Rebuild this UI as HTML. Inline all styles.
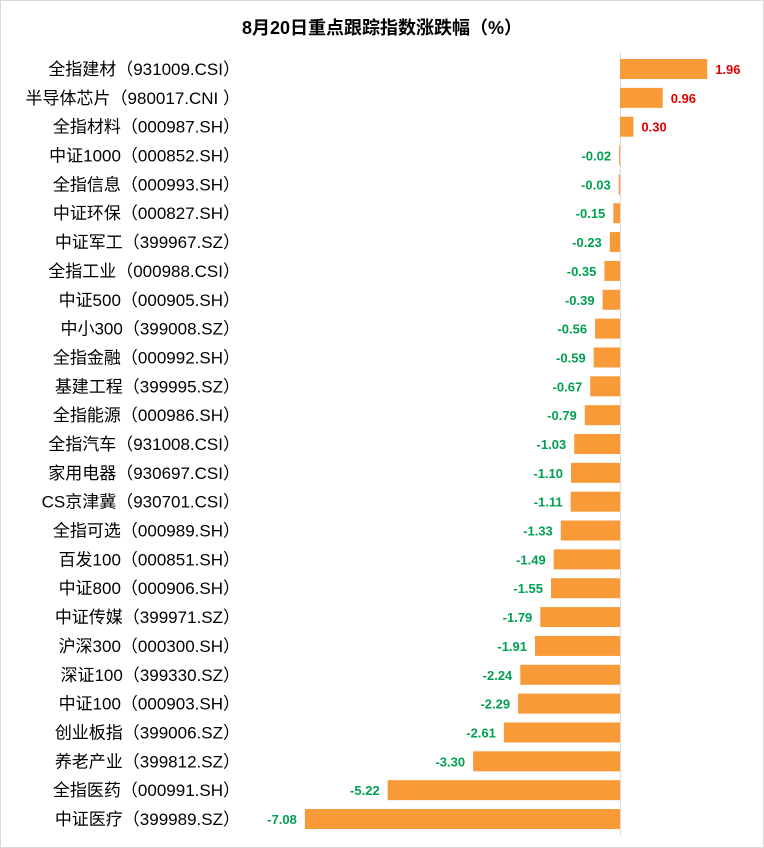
<!DOCTYPE html><html><head><meta charset="utf-8"><style>body{margin:0;background:#fff}svg{display:block}.l{font-size:17px;fill:#000;text-anchor:end}.p{font-size:13px;font-weight:bold;fill:#E00000}.n{font-size:13px;font-weight:bold;fill:#00A050;text-anchor:end}rect.b{fill:#F99A38}</style></head><body>
<svg width="764" height="848" xmlns="http://www.w3.org/2000/svg" font-family="Liberation Sans, Noto Sans CJK SC, sans-serif">
<rect x="0.5" y="0.5" width="763" height="847" fill="#fff" stroke="#d9d9d9"/>
<text x="382" y="34" text-anchor="middle" font-size="18" font-weight="bold" fill="#000">8月20日重点跟踪指数涨跌幅（%）</text>
<line x1="620.5" y1="52" x2="620.5" y2="835" stroke="#d9d9d9"/>
<g transform="translate(0,69)"><rect class="b" x="620" y="-10" width="87.2" height="20"/><text class="l" x="240" y="6">全指建材（931009.CSI）</text><text class="p" x="715.2" y="5">1.96</text></g>
<g transform="translate(0,97.85)"><rect class="b" x="620" y="-10" width="42.7" height="20"/><text class="l" x="240" y="6">半导体芯片（980017.CNI ）</text><text class="p" x="670.7" y="5">0.96</text></g>
<g transform="translate(0,126.69)"><rect class="b" x="620" y="-10" width="13.4" height="20"/><text class="l" x="240" y="6">全指材料（000987.SH）</text><text class="p" x="641.4" y="5">0.30</text></g>
<g transform="translate(0,155.54)"><rect class="b" x="619.1" y="-10" width="0.9" height="20"/><text class="l" x="240" y="6">中证1000（000852.SH）</text><text class="n" x="611.1" y="5">-0.02</text></g>
<g transform="translate(0,184.38)"><rect class="b" x="618.7" y="-10" width="1.3" height="20"/><text class="l" x="240" y="6">全指信息（000993.SH）</text><text class="n" x="610.7" y="5">-0.03</text></g>
<g transform="translate(0,213.23)"><rect class="b" x="613.3" y="-10" width="6.7" height="20"/><text class="l" x="240" y="6">中证环保（000827.SH）</text><text class="n" x="605.3" y="5">-0.15</text></g>
<g transform="translate(0,242.08)"><rect class="b" x="609.8" y="-10" width="10.2" height="20"/><text class="l" x="240" y="6">中证军工（399967.SZ）</text><text class="n" x="601.8" y="5">-0.23</text></g>
<g transform="translate(0,270.92)"><rect class="b" x="604.4" y="-10" width="15.6" height="20"/><text class="l" x="240" y="6">全指工业（000988.CSI）</text><text class="n" x="596.4" y="5">-0.35</text></g>
<g transform="translate(0,299.77)"><rect class="b" x="602.6" y="-10" width="17.4" height="20"/><text class="l" x="240" y="6">中证500（000905.SH）</text><text class="n" x="594.6" y="5">-0.39</text></g>
<g transform="translate(0,328.62)"><rect class="b" x="595.1" y="-10" width="24.9" height="20"/><text class="l" x="240" y="6">中小300（399008.SZ）</text><text class="n" x="587.1" y="5">-0.56</text></g>
<g transform="translate(0,357.46)"><rect class="b" x="593.7" y="-10" width="26.3" height="20"/><text class="l" x="240" y="6">全指金融（000992.SH）</text><text class="n" x="585.7" y="5">-0.59</text></g>
<g transform="translate(0,386.31)"><rect class="b" x="590.2" y="-10" width="29.8" height="20"/><text class="l" x="240" y="6">基建工程（399995.SZ）</text><text class="n" x="582.2" y="5">-0.67</text></g>
<g transform="translate(0,415.15)"><rect class="b" x="584.8" y="-10" width="35.2" height="20"/><text class="l" x="240" y="6">全指能源（000986.SH）</text><text class="n" x="576.8" y="5">-0.79</text></g>
<g transform="translate(0,444)"><rect class="b" x="574.2" y="-10" width="45.8" height="20"/><text class="l" x="240" y="6">全指汽车（931008.CSI）</text><text class="n" x="566.2" y="5">-1.03</text></g>
<g transform="translate(0,472.85)"><rect class="b" x="571" y="-10" width="49" height="20"/><text class="l" x="240" y="6">家用电器（930697.CSI）</text><text class="n" x="563" y="5">-1.10</text></g>
<g transform="translate(0,501.69)"><rect class="b" x="570.6" y="-10" width="49.4" height="20"/><text class="l" x="240" y="6">CS京津冀（930701.CSI）</text><text class="n" x="562.6" y="5">-1.11</text></g>
<g transform="translate(0,530.54)"><rect class="b" x="560.8" y="-10" width="59.2" height="20"/><text class="l" x="240" y="6">全指可选（000989.SH）</text><text class="n" x="552.8" y="5">-1.33</text></g>
<g transform="translate(0,559.38)"><rect class="b" x="553.7" y="-10" width="66.3" height="20"/><text class="l" x="240" y="6">百发100（000851.SH）</text><text class="n" x="545.7" y="5">-1.49</text></g>
<g transform="translate(0,588.23)"><rect class="b" x="551" y="-10" width="69" height="20"/><text class="l" x="240" y="6">中证800（000906.SH）</text><text class="n" x="543" y="5">-1.55</text></g>
<g transform="translate(0,617.08)"><rect class="b" x="540.3" y="-10" width="79.7" height="20"/><text class="l" x="240" y="6">中证传媒（399971.SZ）</text><text class="n" x="532.3" y="5">-1.79</text></g>
<g transform="translate(0,645.92)"><rect class="b" x="535" y="-10" width="85" height="20"/><text class="l" x="240" y="6">沪深300（000300.SH）</text><text class="n" x="527" y="5">-1.91</text></g>
<g transform="translate(0,674.77)"><rect class="b" x="520.3" y="-10" width="99.7" height="20"/><text class="l" x="240" y="6">深证100（399330.SZ）</text><text class="n" x="512.3" y="5">-2.24</text></g>
<g transform="translate(0,703.62)"><rect class="b" x="518.1" y="-10" width="101.9" height="20"/><text class="l" x="240" y="6">中证100（000903.SH）</text><text class="n" x="510.1" y="5">-2.29</text></g>
<g transform="translate(0,732.46)"><rect class="b" x="503.9" y="-10" width="116.1" height="20"/><text class="l" x="240" y="6">创业板指（399006.SZ）</text><text class="n" x="495.9" y="5">-2.61</text></g>
<g transform="translate(0,761.31)"><rect class="b" x="473.1" y="-10" width="146.9" height="20"/><text class="l" x="240" y="6">养老产业（399812.SZ）</text><text class="n" x="465.1" y="5">-3.30</text></g>
<g transform="translate(0,790.15)"><rect class="b" x="387.7" y="-10" width="232.3" height="20"/><text class="l" x="240" y="6">全指医药（000991.SH）</text><text class="n" x="379.7" y="5">-5.22</text></g>
<g transform="translate(0,819)"><rect class="b" x="304.9" y="-10" width="315.1" height="20"/><text class="l" x="240" y="6">中证医疗（399989.SZ）</text><text class="n" x="296.9" y="5">-7.08</text></g>
</svg></body></html>
